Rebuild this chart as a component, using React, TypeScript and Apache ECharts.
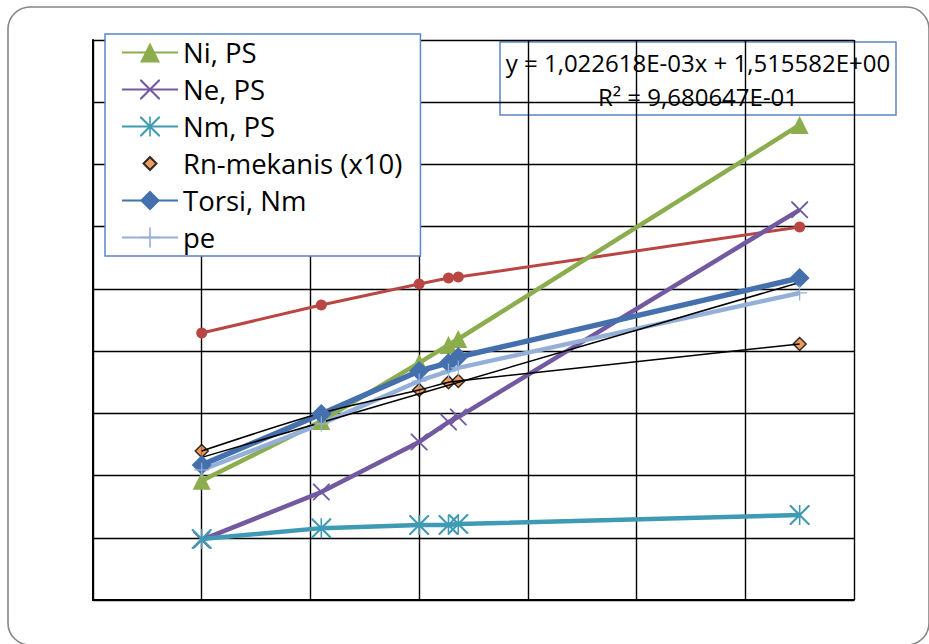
import React, { useEffect, useRef } from 'react';
import * as echarts from 'echarts';

// Engine speed (rpm) at each measuring point
const rpm = [3000, 4100, 5000, 5270, 5360, 8500];

// Measured series
const niPS = [3.83, 5.75, 7.62, 8.2, 8.39, 15.27];
const nePS = [1.93, 3.47, 5.08, 5.72, 5.88, 12.54];
const nmPS = [1.96, 2.31, 2.41, 2.41, 2.44, 2.73];
const rnMekanis = [4.79, 6.01, 6.75, 7.0, 7.04, 8.23];
const torsiNm = [4.34, 5.98, 7.36, 7.62, 7.81, 10.35];
const pe = [4.18, 5.66, 7.04, 7.36, 7.46, 9.87];
const seriMerah = [8.58, 9.48, 10.16, 10.35, 10.38, 11.99];

// Linear trendline
const trendSlope = 1.022618e-3;
const trendIntercept = 1.515582;
const trendR2 = 0.9680647;
const trendFrom = 3000;
const trendTo = 8500;

// Axis ranges (labels hidden)
const xMin = 2000, xMax = 9000, xStep = 1000;
const yMin = 0, yMax = 18, yStep = 2;

const FONT = '"Open Sans", Carlito, Lato, sans-serif';

const X_PATH = 'path://M0,0 L1.5,0 L20,18.5 L20,20 L18.5,20 L0,1.5 Z M18.5,0 L20,0 L20,1.5 L1.5,20 L0,20 L0,18.5 Z';
const STAR_PATH = X_PATH + ' M9.2,0 L10.8,0 L10.8,20 L9.2,20 Z';
const PLUS_PATH = 'path://M9.2,0 L10.8,0 L10.8,9.2 L20,9.2 L20,10.8 L10.8,10.8 L10.8,20 L9.2,20 L9.2,10.8 L0,10.8 L0,9.2 L9.2,9.2 Z';
// small diamond inside a padded box, for the legend entry
const SMALL_DIAMOND = 'path://M0,0 M25,25 M12.5,6 L19,12.5 L12.5,19 L6,12.5 Z';

const pair = (ys: number[]) => rpm.map((x, i) => [x, ys[i]]);

function fmtExcel(v: number): string {
  const [m, e] = v.toExponential(6).split('e');
  const n = parseInt(e, 10);
  return m.replace('.', ',') + 'E' + (n < 0 ? '-' : '+') + String(Math.abs(n)).padStart(2, '0');
}

export default function App() {
  const ref = useRef<HTMLDivElement>(null);

  useEffect(() => {
    if (!ref.current) return;
    const chart = echarts.init(ref.current, null, { renderer: 'svg' });

    const trendData = [trendFrom, trendTo].map((x) => [x, trendSlope * x + trendIntercept]);
    const eqLine1 = 'y = ' + fmtExcel(trendSlope) + 'x + ' + fmtExcel(trendIntercept);
    const eqLine2 = 'R² = ' + fmtExcel(trendR2);

    const lineSeries = (name: string, ys: number[], color: string, symbol: string, size: number, width: number) => ({
      type: 'line',
      name,
      data: pair(ys),
      symbol,
      symbolSize: size,
      showAllSymbol: true,
      lineStyle: { color, width },
      itemStyle: { color },
      emphasis: { disabled: true },
    });

    chart.setOption({
      animation: false,
      backgroundColor: '#fff',
      grid: { left: 93, top: 40, right: 75, bottom: 44, containLabel: false },
      xAxis: {
        type: 'value',
        min: xMin,
        max: xMax,
        interval: xStep,
        axisLabel: { show: false },
        axisTick: { show: false },
        axisLine: { show: true, onZero: false, lineStyle: { color: '#000', width: 2 } },
        splitLine: { show: true, lineStyle: { color: '#000', width: 1.4 } },
      },
      yAxis: {
        type: 'value',
        min: yMin,
        max: yMax,
        interval: yStep,
        axisLabel: { show: false },
        axisTick: { show: false },
        axisLine: { show: true, onZero: false, lineStyle: { color: '#000', width: 2 } },
        splitLine: { show: true, lineStyle: { color: '#000', width: 1.4 } },
      },
      legend: {
        orient: 'vertical',
        left: 105,
        top: 34,
        z: 20,
        padding: [0, 18, 0, 16],
        itemGap: 0,
        itemWidth: 56,
        itemHeight: 25,
        backgroundColor: '#fff',
        borderColor: '#5B87C4',
        borderWidth: 1.5,
        textStyle: { fontFamily: FONT, fontSize: 27.5, color: '#000', lineHeight: 37 },
        data: [
          { name: 'Ni, PS' },
          { name: 'Ne, PS' },
          { name: 'Nm, PS' },
          { name: 'Rn-mekanis (x10)', icon: SMALL_DIAMOND },
          { name: 'Torsi, Nm' },
          { name: 'pe' },
        ],
      },
      series: [
        lineSeries('merah', seriMerah, '#B94642', 'circle', 11, 3),
        lineSeries('Ni, PS', niPS, '#8CAD4D', 'triangle', 18, 4.5),
        lineSeries('Ne, PS', nePS, '#7259A0', X_PATH, 17, 4.5),
        lineSeries('Nm, PS', nmPS, '#3E9BB3', STAR_PATH, 20, 4.5),
        lineSeries('Torsi, Nm', torsiNm, '#4470AE', 'diamond', 20, 5.5),
        lineSeries('pe', pe, '#94B0D8', PLUS_PATH, 15, 4.5),
        {
          type: 'scatter',
          name: 'Rn-mekanis (x10)',
          data: pair(rnMekanis),
          symbol: 'diamond',
          symbolSize: 13,
          itemStyle: { color: '#E8833A', borderColor: '#000', borderWidth: 1.5 },
          emphasis: { disabled: true },
        },
        {
          type: 'line',
          name: 'Rn-mekanis kurva',
          data: pair(rnMekanis),
          smooth: 0.3,
          symbol: 'none',
          lineStyle: { color: '#000', width: 1.5 },
          emphasis: { disabled: true },
        },
        {
          type: 'line',
          name: 'Trendline',
          data: trendData,
          symbol: 'none',
          lineStyle: { color: '#000', width: 1.5 },
          emphasis: { disabled: true },
        },
      ],
      graphic: [
        {
          type: 'rect',
          z: -10,
          silent: true,
          shape: { x: 8, y: 7, width: 921, height: 638, r: 22 },
          style: { fill: 'none', stroke: '#868686', lineWidth: 1.6 },
        },
        {
          type: 'group',
          z: 30,
          children: [
            {
              type: 'rect',
              shape: { x: 500, y: 42, width: 396, height: 73 },
              style: { fill: '#fff', stroke: '#5B87C4', lineWidth: 1.5 },
            },
            {
              type: 'text',
              x: 698,
              y: 62,
              style: { text: eqLine1, fill: '#000', font: `24px ${FONT}`, textAlign: 'center', textVerticalAlign: 'middle' },
            },
            {
              type: 'text',
              x: 698,
              y: 96,
              style: { text: eqLine2, fill: '#000', font: `24px ${FONT}`, textAlign: 'center', textVerticalAlign: 'middle' },
            },
          ],
        },
      ],
    });

    return () => chart.dispose();
  }, []);

  return <div ref={ref} style={{ position: 'fixed', left: 0, top: 0, width: 929, height: 644 }} />;
}
